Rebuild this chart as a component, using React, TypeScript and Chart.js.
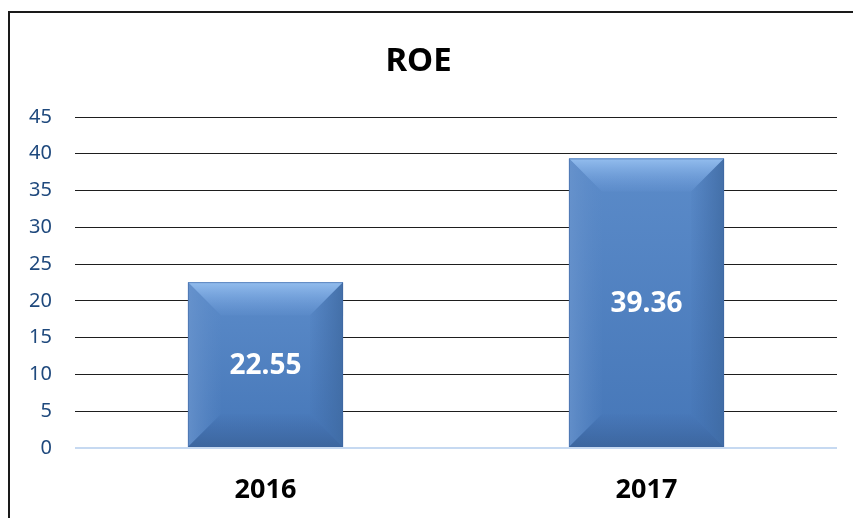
import React, { useEffect, useRef } from "react";
import { Chart, registerables } from "chart.js";

Chart.register(...registerables);

const categories = ["2016", "2017"];
const roeValues = [22.55, 39.36];
const yTicks = [0, 5, 10, 15, 20, 25, 30, 35, 40, 45];
const titleText = "ROE";

const FONT = "'Noto Sans', 'Open Sans', sans-serif";

const borderPlugin = {
  id: "outerBorder",
  beforeDraw(chart: any) {
    const ctx = chart.ctx;
    ctx.save();
    ctx.fillStyle = "#ffffff";
    ctx.fillRect(0, 0, chart.width, chart.height);
    ctx.strokeStyle = "#1a1a1a";
    ctx.lineWidth = 2;
    ctx.strokeRect(9, 12, chart.width + 40, chart.height + 40);
    ctx.restore();
  },
};

const bevelPlugin = {
  id: "bevelBars",
  afterDatasetsDraw(chart: any) {
    const ctx = chart.ctx;
    const meta = chart.getDatasetMeta(0);
    const values = chart.data.datasets[0].data;
    meta.data.forEach((bar: any, i: number) => {
      const p = bar.getProps(["x", "y", "base", "width"], true);
      const x0 = p.x - p.width / 2;
      const x1 = p.x + p.width / 2;
      const y0 = Math.min(p.y, p.base);
      const y1 = Math.max(p.y, p.base);
      const b = Math.min(33, (x1 - x0) / 2, (y1 - y0) / 2);
      ctx.save();
      const face = ctx.createLinearGradient(0, y0, 0, y1);
      face.addColorStop(0, "#5b8bc9");
      face.addColorStop(1, "#4677b8");
      ctx.fillStyle = face;
      ctx.fillRect(x0, y0, x1 - x0, y1 - y0);

      const poly = (pts: number[][], grad: any) => {
        ctx.beginPath();
        ctx.moveTo(pts[0][0], pts[0][1]);
        for (let k = 1; k < pts.length; k++) ctx.lineTo(pts[k][0], pts[k][1]);
        ctx.closePath();
        ctx.fillStyle = grad;
        ctx.fill();
      };
      let g = ctx.createLinearGradient(0, y0, 0, y0 + b);
      g.addColorStop(0, "rgba(150,192,240,0.95)");
      g.addColorStop(1, "rgba(120,165,225,0.1)");
      poly([[x0, y0], [x1, y0], [x1 - b, y0 + b], [x0 + b, y0 + b]], g);
      g = ctx.createLinearGradient(x0, 0, x0 + b, 0);
      g.addColorStop(0, "rgba(105,148,205,0.8)");
      g.addColorStop(1, "rgba(95,140,200,0.05)");
      poly([[x0, y0], [x0 + b, y0 + b], [x0 + b, y1 - b], [x0, y1]], g);
      g = ctx.createLinearGradient(x1, 0, x1 - b, 0);
      g.addColorStop(0, "rgba(62,105,160,0.8)");
      g.addColorStop(1, "rgba(62,105,165,0.05)");
      poly([[x1, y0], [x1, y1], [x1 - b, y1 - b], [x1 - b, y0 + b]], g);
      g = ctx.createLinearGradient(0, y1, 0, y1 - b);
      g.addColorStop(0, "rgba(58,98,152,0.8)");
      g.addColorStop(1, "rgba(60,100,160,0.05)");
      poly([[x0, y1], [x1, y1], [x1 - b, y1 - b], [x0 + b, y1 - b]], g);

      ctx.strokeStyle = "rgba(60,100,160,0.5)";
      ctx.lineWidth = 1;
      ctx.strokeRect(x0 + 0.5, y0 + 0.5, x1 - x0 - 1, y1 - y0 - 1);

      ctx.fillStyle = "#ffffff";
      ctx.font = `bold 28px ${FONT}`;
      ctx.textAlign = "center";
      ctx.textBaseline = "middle";
      ctx.fillText(String(values[i].toFixed(2)), p.x, (y0 + y1) / 2 + 1);
      ctx.restore();
    });
  },
};

export default function App() {
  const ref = useRef<HTMLCanvasElement | null>(null);
  useEffect(() => {
    if (!ref.current) return;
    const chart = new Chart(ref.current, {
      type: "bar",
      data: {
        labels: categories,
        datasets: [
          {
            label: titleText,
            data: roeValues,
            backgroundColor: "#4a7dc0",
            borderWidth: 0,
            categoryPercentage: 1,
            barPercentage: 0.407,
          },
        ],
      },
      options: {
        animation: false,
        responsive: false,
        maintainAspectRatio: false,
        layout: { padding: { left: 0, right: 16, top: 0, bottom: 0 } },
        plugins: {
          legend: { display: false },
          tooltip: { enabled: false },
          title: {
            display: true,
            text: titleText,
            color: "#000000",
            font: { family: FONT, size: 33, weight: "bold", lineHeight: 1.2 },
            padding: { top: 42, bottom: 35.4 },
          },
        },
        scales: {
          x: {
            grid: { display: false, drawTicks: false },
            border: { display: false },
            ticks: {
              color: "#000000",
              font: { family: FONT, size: 27, weight: "bold", lineHeight: 1.2 },
              padding: 26,
            },
            afterFit(scale: any) {
              scale.height = 70;
            },
          },
          y: {
            min: 0,
            max: 45,
            afterBuildTicks(scale: any) {
              scale.ticks = yTicks.map((v) => ({ value: v }));
            },
            grid: {
              drawTicks: false,
              color: (c: any) => (c.tick && c.tick.value === 0 ? "#c6d9f1" : "#1e1e1e"),
              lineWidth: (c: any) => (c.tick && c.tick.value === 0 ? 2 : 1),
            },
            border: { display: false },
            ticks: {
              color: "#1f497d",
              font: { family: FONT, size: 20 },
              padding: 23,
            },
            afterFit(scale: any) {
              scale.width = 75;
            },
          },
        },
      },
      plugins: [borderPlugin, bevelPlugin],
    } as any);
    return () => chart.destroy();
  }, []);
  return (
    <div style={{ position: "absolute", left: 0, top: 0, width: 853, height: 518 }}>
      <canvas ref={ref} width={853} height={518} style={{ display: "block" }} />
    </div>
  );
}
